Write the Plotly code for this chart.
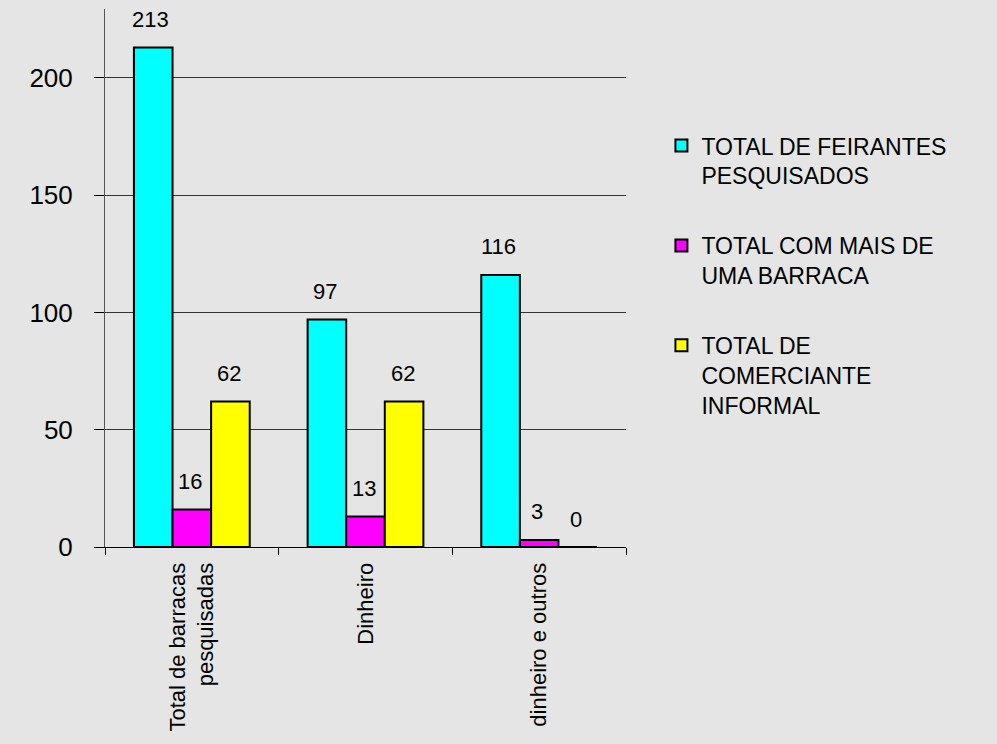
import plotly.graph_objects as go

# data
categories = ["Total de barracas<br>pesquisadas", "Dinheiro", "dinheiro e outros"]
series_names = ["TOTAL DE FEIRANTES<br>PESQUISADOS",
                "TOTAL COM MAIS DE<br>UMA BARRACA",
                "TOTAL DE<br>COMERCIANTE<br>INFORMAL"]
feirantes = [213, 97, 116]
mais_de_uma = [16, 13, 3]
comerciante = [62, 62, 0]
y_ticks = [0, 50, 100, 150, 200]

colors = ["#00ffff", "#ff00ff", "#ffff00"]
bg = "#e5e5e5"
font = "Liberation Sans, Arial, sans-serif"

fig = go.Figure()
all_values = [feirantes, mais_de_uma, comerciante]
bar_px = 39  # width of one bar in pixels, used to put the labels over their bars

annotations = []
for i, (name, vals) in enumerate(zip(series_names, all_values)):
    fig.add_trace(go.Bar(
        x=categories, y=vals, name=name,
        legendgroup="g%d" % i,
        marker=dict(color=colors[i], line=dict(color="black", width=2)),
        hoverinfo="skip",
    ))
    for c, v in zip(categories, vals):
        annotations.append(dict(
            x=c, y=v, xref="x", yref="y", text=str(v), showarrow=False,
            xshift=(i - 1) * bar_px - 2, yshift=28, yanchor="middle",
            font=dict(family=font, size=22, color="black"),
        ))

fig.update_layout(
    width=997, height=744,
    paper_bgcolor=bg, plot_bgcolor=bg,
    margin=dict(l=105, r=371, t=9, b=197),
    barmode="group", bargap=1/3, bargroupgap=0,
    font=dict(family=font, color="black"),
    annotations=annotations,
    showlegend=True,
    legend=dict(
        x=1.068, xanchor="left", y=0.786, yanchor="top",
        font=dict(family=font, size=23, color="black"),
        bgcolor="rgba(0,0,0,0)", valign="top",
        tracegroupgap=37, traceorder="grouped",
    ),
)

fig.update_xaxes(
    showline=True, linecolor="black", linewidth=1,
    ticks="outside", tickson="boundaries", ticklen=7, tickcolor="black",
    tickangle=-90, ticklabelstandoff=6,
    tickfont=dict(family=font, size=22, color="black"),
    showgrid=False,
)
fig.update_yaxes(
    range=[0, 229.4], tickvals=y_ticks,
    showline=True, linecolor="#555555", linewidth=1,
    ticks="outside", ticklen=10, tickcolor="black",
    ticklabelstandoff=16,
    tickfont=dict(family=font, size=26, color="black"),
    showgrid=True, gridcolor="#333333", gridwidth=1,
    zeroline=False,
)

fig.write_html("out.html", config={"displayModeBar": False},
               post_script="document.body.style.margin='0';")
